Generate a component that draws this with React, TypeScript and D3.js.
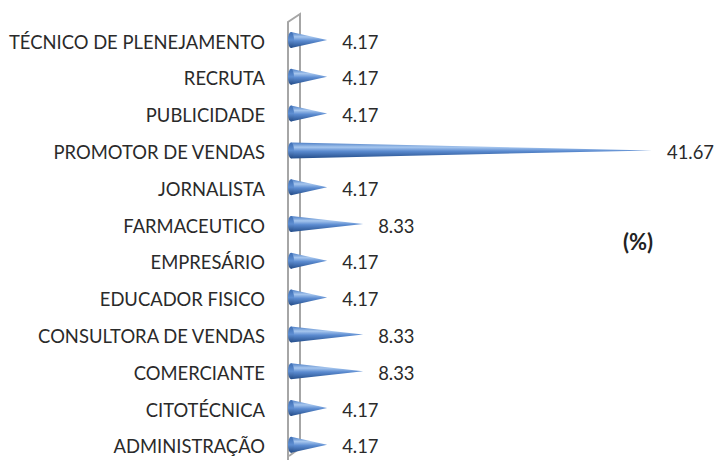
import React from 'react';
import * as d3 from 'd3';

const categories = [
  'TÉCNICO DE PLENEJAMENTO',
  'RECRUTA',
  'PUBLICIDADE',
  'PROMOTOR DE VENDAS',
  'JORNALISTA',
  'FARMACEUTICO',
  'EMPRESÁRIO',
  'EDUCADOR FISICO',
  'CONSULTORA DE VENDAS',
  'COMERCIANTE',
  'CITOTÉCNICA',
  'ADMINISTRAÇÃO',
];

const values = [4.17, 4.17, 4.17, 41.67, 4.17, 8.33, 4.17, 4.17, 8.33, 8.33, 4.17, 4.17];

const unitLabel = '(%)';

const W = 724;
const H = 460;
const FONT = 'Lato, "Open Sans", sans-serif';

export default function App() {
  const y = d3.scaleBand<string>().domain(categories).range([25.6, 467.2]);
  const x = d3.scaleLinear().domain([0, 41.67]).range([291, 652]);
  const fmt = d3.format('.2f');
  const coneH = 16;

  return (
    <svg width={W} height={H} style={{ position: 'absolute', left: 0, top: 0, background: '#fff' }}>
      <defs>
        <linearGradient id="cone" x1="0" y1="0" x2="0" y2="1">
          <stop offset="0" stopColor="#4a7cc4" />
          <stop offset="0.3" stopColor="#a6c6ee" />
          <stop offset="0.55" stopColor="#5b8bd0" />
          <stop offset="1" stopColor="#254f8c" />
        </linearGradient>
        <linearGradient id="base" x1="0" y1="0" x2="0" y2="1">
          <stop offset="0" stopColor="#3f6fb5" />
          <stop offset="0.5" stopColor="#5f8fd2" />
          <stop offset="1" stopColor="#234a85" />
        </linearGradient>
      </defs>

      {/* axis wall */}
      <g stroke="#a6a6a6" strokeWidth={2} fill="none">
        <path d="M288,460 L288,22 L300,14 L300,448 L289,456" />
      </g>

      {categories.map((c, i) => {
        const cy = (y(c) as number) + y.bandwidth() / 2;
        const coneY = cy - 4;
        const x0 = x(0);
        const x1 = x(values[i]);
        return (
          <g key={c}>
            <text
              x={265}
              y={cy}
              textAnchor="end"
              dominantBaseline="middle"
              fontFamily={FONT}
              fontSize={18.4}
              fill="#2a2a2a"
            >
              {c}
            </text>
            <path
              d={`M${x0},${coneY - coneH / 2} L${x1},${coneY} L${x0},${coneY + coneH / 2} Z`}
              fill="url(#cone)"
            />
            <ellipse cx={x0} cy={coneY} rx={3} ry={coneH / 2} fill="url(#base)" />
            <text
              x={x1 + 15}
              y={cy}
              dominantBaseline="middle"
              fontFamily={FONT}
              fontSize={18.4}
              fill="#2a2a2a"
            >
              {fmt(values[i])}
            </text>
          </g>
        );
      })}

      <text
        x={623}
        y={244}
        dominantBaseline="middle"
        fontFamily={FONT}
        fontSize={22}
        fontWeight="bold"
        fill="#222"
      >
        {unitLabel}
      </text>
    </svg>
  );
}
